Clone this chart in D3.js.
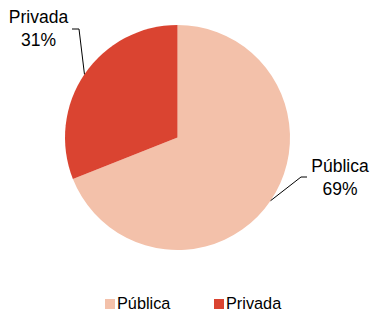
<!DOCTYPE html>
<html>
<head>
<meta charset="utf-8">
<script src="https://cdn.jsdelivr.net/npm/d3@7"></script>
<style>
  body { margin: 0; background: #fff; }
  text { font-family: "Liberation Sans", Arial, sans-serif; fill: #000; }
</style>
</head>
<body>
<div id="chart"></div>
<script>
// data
var categories = ["Pública", "Privada"];
var values = [69, 31];
var colors = ["#F3C1AA", "#DA4431"];

var width = 372, height = 312;
var cx = 177.5, cy = 137.5, radius = 112.5;

var svg = d3.select("#chart")
  .append("svg")
    .attr("width", width)
    .attr("height", height);

var data = categories.map(function(c, i) { return {name: c, value: values[i], color: colors[i]}; });

var pie = d3.pie()
  .sort(null)
  .value(function(d) { return d.value; });

var arc = d3.arc()
  .innerRadius(0)
  .outerRadius(radius);

// edge point, for the leader lines
var edgeArc = d3.arc()
  .innerRadius(radius)
  .outerRadius(radius);

var g = svg.append("g")
  .attr("transform", "translate(" + cx + "," + cy + ")");

var arcs = pie(data);

g.selectAll("path")
  .data(arcs)
  .enter()
  .append("path")
    .attr("fill", function(d) { return d.data.color; })
    .attr("d", arc);

// label placement (elbow of leader line + text anchor), relative to center
var labelPos = {
  "Pública": {elbow: [123.5, 39.5], end: [129.5, 39.5], text: [162.5, 34.5]},
  "Privada": {elbow: [-98.5, -108.5], end: [-105.5, -108.5], text: [-139, -114.5]}
};

arcs.forEach(function(d) {
  var p = labelPos[d.data.name];
  var e = edgeArc.centroid(d);
  g.append("polyline")
    .attr("points", [e, p.elbow, p.end].map(function(q) { return q.join(","); }).join(" "))
    .attr("fill", "none")
    .attr("stroke", "#000")
    .attr("stroke-width", 1);
  var t = g.append("text")
    .attr("text-anchor", "middle")
    .style("font-size", "17.5px");
  t.append("tspan")
    .attr("x", p.text[0])
    .attr("y", p.text[1])
    .text(d.data.name);
  t.append("tspan")
    .attr("x", p.text[0])
    .attr("y", p.text[1] + 23)
    .text(d.data.value + "%");
});

// legend
var legendX = d3.scalePoint()
  .domain(categories)
  .range([105, 214]);

var legend = svg.append("g")
  .selectAll("g")
  .data(data)
  .enter()
  .append("g")
    .attr("transform", function(d) { return "translate(" + legendX(d.name) + ",299)"; });

legend.append("rect")
  .attr("width", 10)
  .attr("height", 10)
  .attr("fill", function(d) { return d.color; });

legend.append("text")
  .attr("x", 12)
  .attr("y", 10)
  .style("font-size", "16.3px")
  .text(function(d) { return d.name; });
</script>
</body>
</html>
